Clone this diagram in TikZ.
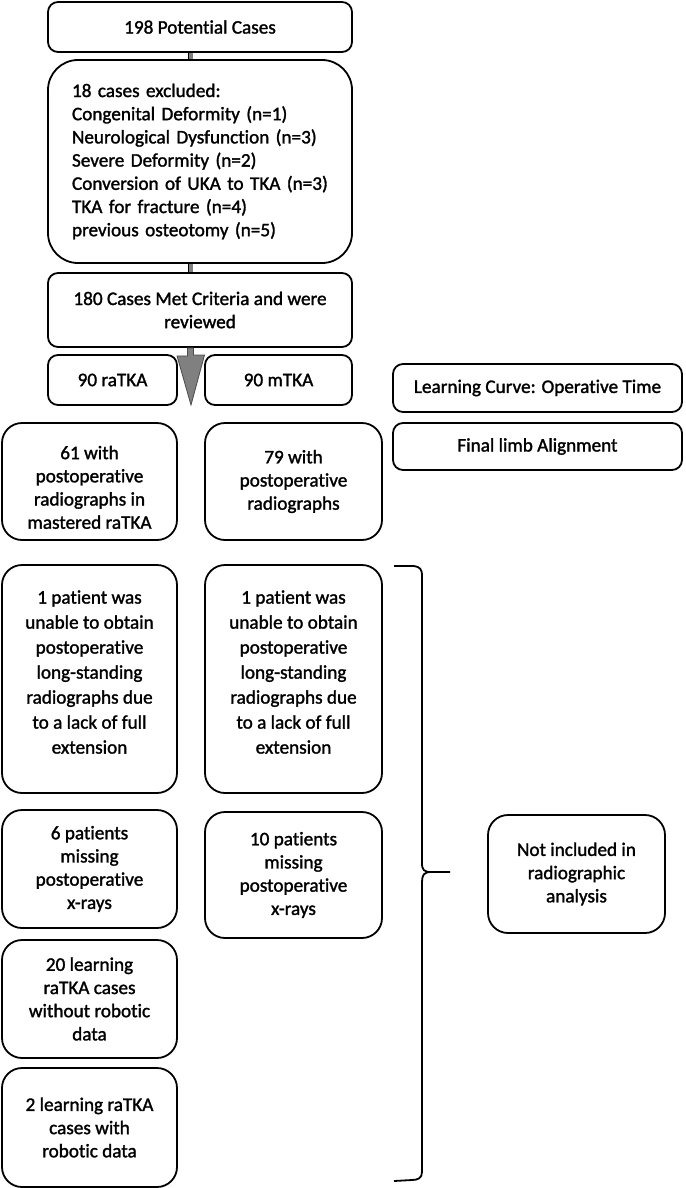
\documentclass[tikz,border=0pt]{standalone}
\usepackage{fontspec}
\setmainfont{Carlito}[FakeBold=1.5, Ligatures=CommonOff]
\usepackage{xcolor}
\usepackage{tikz}
\usetikzlibrary{arrows}

\begin{document}
\begin{tikzpicture}[x=1pt, y=-1pt,
    font=\fontsize{19.2}{23.2}\selectfont,
    smallbox/.style={draw, line width=1.8pt, rounded corners=10pt, align=center, inner sep=0pt},
    tallbox/.style={draw, line width=1.8pt, rounded corners=20pt, align=center, inner sep=0pt},
    bar/.style={draw=black, line width=0.7pt, double=gray, double distance=4pt},
    blockarrow/.style={fill=gray, draw=black!70, line width=0.8pt}]
          \useasboundingbox (0,0) rectangle (685,1188);

          \node[smallbox, minimum width=304pt, minimum height=50pt] (pot) at (200,27) {198 Potential Cases};
          \node[tallbox, rounded corners=30pt, minimum height=203pt, text width=256pt, inner xsep=24pt, align=left] (excl) at (200,161.5)
            {18 cases excluded:\\Congenital Deformity (n=1)\\Neurological Dysfunction (n=3)\\Severe Deformity (n=2)\\Conversion of UKA to TKA (n=3)\\TKA for fracture (n=4)\\previous osteotomy (n=5)};
          \node[smallbox, minimum width=304pt, minimum height=74pt] (met) at (200,310) {180 Cases Met Criteria and were\\reviewed};

          \node[smallbox, minimum width=129pt, minimum height=50pt] (ra) at (112.5,380) {90 raTKA};
          \node[smallbox, minimum width=147pt, minimum height=50pt] (m) at (278.5,380) {90 mTKA};
          \node[smallbox, minimum width=289pt, minimum height=48pt] (lc) at (537.5,388) {Learning Curve: Operative Time};
          \node[smallbox, minimum width=289pt, minimum height=47pt] (fla) at (537.5,446.5) {Final limb Alignment};

          \node[tallbox, minimum width=175pt, minimum height=117pt] (r61) at (89.5,481.5) {\rule{0pt}{25pt}61 with\\postoperative\\radiographs in\\mastered raTKA};
          \node[tallbox, minimum width=177pt, minimum height=117pt] (m79) at (293.5,481.5) {79 with\\postoperative\\radiographs};

          \node[tallbox, minimum width=175pt, minimum height=228pt, font=\fontsize{19.2}{25}\selectfont] (r1) at (89.5,679)
            {1 patient was\\unable to obtain\\postoperative\\long-standing\\radiographs due\\to a lack of full\\extension\rule[-14pt]{0pt}{14pt}};
          \node[tallbox, minimum width=177pt, minimum height=228pt, font=\fontsize{19.2}{25}\selectfont] (m1) at (293.5,679)
            {1 patient was\\unable to obtain\\postoperative\\long-standing\\radiographs due\\to a lack of full\\extension\rule[-14pt]{0pt}{14pt}};

          \node[tallbox, minimum width=175pt, minimum height=118pt] (r6) at (89.5,869) {6 patients\\missing\\postoperative\\x-rays};
          \node[tallbox, minimum width=177pt, minimum height=126pt] (m10) at (293.5,875) {10 patients\\missing\\postoperative\\x-rays};
          \node[tallbox, minimum width=175pt, minimum height=118pt] (r20) at (89.5,999) {20 learning\\raTKA cases\\without robotic\\data};
          \node[tallbox, minimum width=175pt, minimum height=119pt] (r2) at (89.5,1127.5) {2 learning raTKA\\cases with\\robotic data};

          \node[tallbox, minimum width=177pt, minimum height=118pt] (notinc) at (576.5,874) {Not included in\\radiographic\\analysis};

          \draw[bar] ([xshift=-9.5pt]pot.south) -- ([xshift=-9.5pt]excl.north);
          \draw[bar] ([xshift=-9.5pt]excl.south) -- ([xshift=-9.5pt]met.north);

          \coordinate (tip) at (191,405);
          \draw[blockarrow] ([xshift=-12.5pt]met.south) -- ++(0,8) -- ++(-10.5,0) -- (tip) -- (204.5,355) -- ++(-11,0) -- ([xshift=-6.5pt]met.south) -- cycle;

          \draw[line width=1.8pt] (394,566) -- (414,566) .. controls (420,567) and (422,569) .. (422,576) -- (422,863)
            .. controls (422,870) and (424,872) .. (431,872) -- (450,872) -- (431,872)
            .. controls (424,872) and (422,875) .. (422,882) -- (422,1172)
            .. controls (422,1178) and (418,1180) .. (412,1180) -- (394,1181);
        \end{tikzpicture}
\end{document}
